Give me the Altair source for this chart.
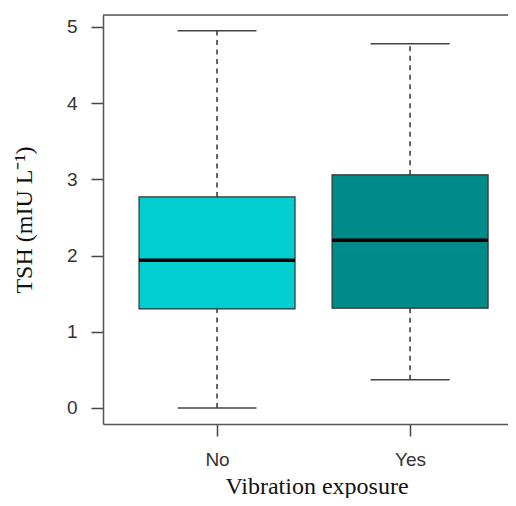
import altair as alt
import pandas as pd

groups = ["No", "Yes"]
lower = [0.0, 0.37]
q1 = [1.30, 1.31]
median = [1.94, 2.20]
q3 = [2.77, 3.06]
upper = [4.95, 4.78]
fills = ["#00CED1", "#008B8B"]
y_ticks = [0, 1, 2, 3, 4, 5]

df = pd.DataFrame({"group": groups, "lower": lower, "q1": q1,
                   "median": median, "q3": q3, "upper": upper})

W, H = 405, 409
ydom = [-0.21, 5.157]

xscale = alt.Scale(type="point", domain=groups, padding=0.549, align=0.538)
yscale = alt.Scale(domain=ydom, nice=False, zero=False)

xaxis = alt.Axis(title="Vibration exposure", labelAngle=0, tickSize=12,
                 labelPadding=14, labelFont="Liberation Sans", labelFontSize=19,
                 labelColor="#333333", tickColor="#444444", domainColor="#555555",
                 domainWidth=1.5, tickWidth=1.5,
                 titleFont="Liberation Serif", titleFontSize=24, titleFontWeight="normal",
                 titleColor="#111111", titleX=213.5, titleY=69, titleBaseline="alphabetic",
                 grid=False)
yaxis = alt.Axis(title="TSH (mIU L\u207b\u00b9)", values=y_ticks, format="d", tickSize=12,
                 labelPadding=14, labelFont="Liberation Sans", labelFontSize=19,
                 labelColor="#333333", tickColor="#444444", domainColor="#555555",
                 domainWidth=1.5, tickWidth=1.5,
                 titleFont="Liberation Serif", titleFontSize=24, titleFontWeight="normal",
                 titleColor="#111111", titleX=-79, titleBaseline="middle",
                 grid=False)

base = alt.Chart(df)
X = alt.X("group:N", scale=xscale, axis=xaxis)

whisk_hi = base.mark_rule(strokeDash=[5, 4.5], color="#555555", strokeWidth=1.8).encode(
    x=X, y=alt.Y("q3:Q", scale=yscale, axis=yaxis), y2="upper")
whisk_lo = base.mark_rule(strokeDash=[5, 4.5], color="#555555", strokeWidth=1.8).encode(
    x=X, y=alt.Y("lower:Q"), y2="q1")
cap_hi = base.mark_tick(size=79, thickness=1.6, color="#444444", opacity=1).encode(
    x=X, y="upper:Q")
cap_lo = base.mark_tick(size=79, thickness=1.6, color="#444444", opacity=1).encode(
    x=X, y="lower:Q")
box = base.mark_bar(size=156, stroke="#333333", strokeWidth=1.2).encode(
    x=X, y="q1:Q", y2="q3",
    color=alt.Color("group:N", scale=alt.Scale(domain=groups, range=fills), legend=None))
med = base.mark_tick(size=156, thickness=3.5, color="#000000", opacity=1).encode(
    x=X, y="median:Q")
top = alt.Chart(pd.DataFrame({"k": [0]})).mark_rule(color="#555555", strokeWidth=1.5).encode(
    x=alt.value(0), x2=alt.value(W), y=alt.value(0))

chart = alt.layer(whisk_hi, whisk_lo, cap_hi, cap_lo, box, med, top).properties(
    width=W, height=H,
    autosize=alt.AutoSizeParams(type="none"),
    padding={"left": 95, "top": 7, "right": 0, "bottom": 74},
).configure_view(stroke=None).configure(background="white")

chart.save("out.html", embed_options={"renderer": "svg", "actions": False})
